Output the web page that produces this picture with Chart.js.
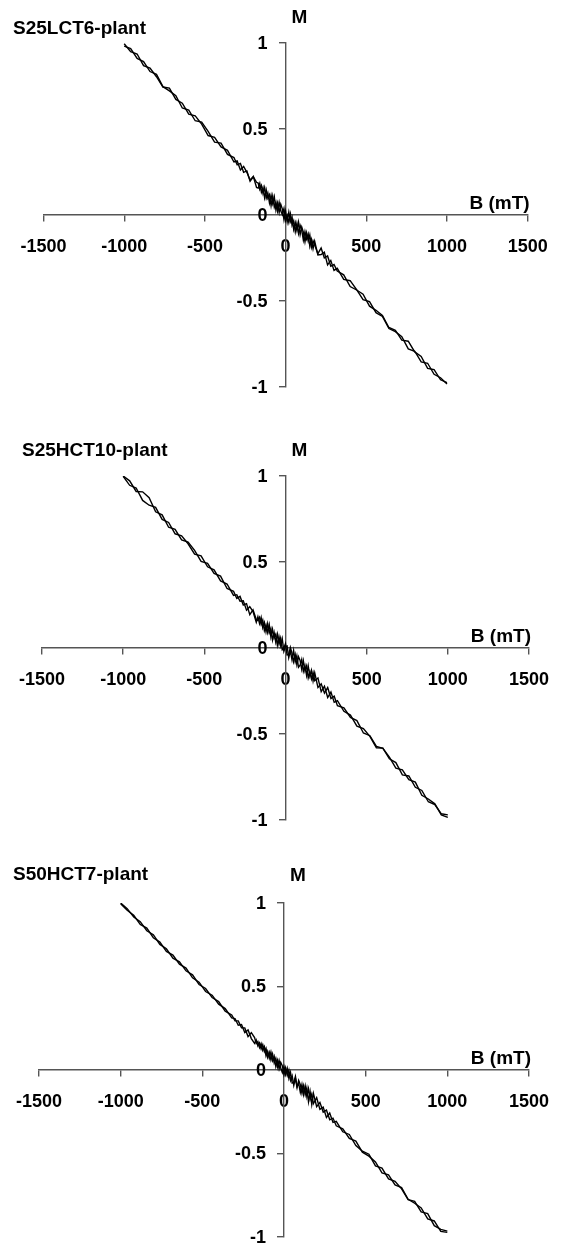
<!DOCTYPE html>
<html>
<head>
<meta charset="utf-8">
<script src="https://cdn.jsdelivr.net/npm/chart.js@4.4.1/dist/chart.umd.min.js"></script>
<style>
  html, body { margin: 0; padding: 0; background: #fff; }
  body { width: 564px; height: 1247px; position: relative; overflow: hidden; }
  canvas { position: absolute; left: 0; }
</style>
</head>
<body>
<canvas id="plantA" width="564" height="415" style="top:0"></canvas>
<canvas id="plantB" width="564" height="415" style="top:415px"></canvas>
<canvas id="plantC" width="564" height="417" style="top:830px"></canvas>
<script>
// applied field B (mT) at each measurement point, shared by all samples
// (finer steps close to zero field)
const fieldSteps = [
    1000, 960, 920, 880, 840, 800, 760, 720, 680, 640, 600, 560, 520, 480, 440, 400, 360, 320,
    300, 280, 260, 240, 220, 200, 180,
    170, 160, 150, 140, 130, 120, 110, 100, 90, 80, 70, 60, 50, 40, 30, 20, 10, 0,
    -10, -20, -30, -40, -50, -60, -70, -80, -90, -100, -110, -120, -130, -140, -150, -160, -170,
    -180, -200, -220, -240, -260, -280, -300,
    -320, -360, -400, -440, -480, -520, -560, -600, -640, -680, -720, -760, -800, -840, -880, -920, -960, -1000
];
const fieldTicks = [-1500, -1000, -500, 0, 500, 1000, 1500];
const momentTicks = [-1, -0.5, 0, 0.5, 1];

// normalised magnetisation M, descending and ascending sweeps
const s25lct6Down = [
    -0.975, -0.958, -0.899, -0.892, -0.822, -0.796, -0.734, -0.728, -0.670, -0.654, -0.584, -0.554, -0.530, -0.460, -0.436, -0.416, -0.348, -0.326,
    -0.288, -0.298, -0.238, -0.250, -0.192, -0.224, -0.174,
    -0.150, -0.188, -0.116, -0.152, -0.104, -0.156, -0.100, -0.070, -0.114, -0.042, -0.090, -0.044, -0.084, -0.012, -0.038, 0.016, -0.040, 0.022,
    -0.028, 0.034, 0.062, 0.014, 0.070, 0.028, 0.106, 0.066, 0.116, 0.070, 0.128, 0.098, 0.160, 0.124, 0.172, 0.148, 0.186,
    0.190, 0.222, 0.196, 0.256, 0.248, 0.300, 0.292,
    0.334, 0.352, 0.418, 0.424, 0.486, 0.540, 0.548, 0.610, 0.622, 0.694, 0.722, 0.746, 0.818, 0.834, 0.892, 0.910, 0.968, 0.982
];
const s25lct6Up = [
    -0.982, -0.946, -0.926, -0.862, -0.854, -0.792, -0.778, -0.708, -0.678, -0.660, -0.590, -0.568, -0.504, -0.492, -0.434, -0.382, -0.374, -0.310,
    -0.322, -0.264, -0.290, -0.216, -0.230, -0.232, -0.152,
    -0.196, -0.142, -0.182, -0.110, -0.140, -0.096, -0.146, -0.088, -0.060, -0.108, -0.048, -0.098, -0.034, -0.060, 0.006, -0.044, -0.002, -0.032,
    0.038, 0.002, 0.024, 0.074, 0.022, 0.076, 0.046, 0.110, 0.054, 0.118, 0.098, 0.146, 0.100, 0.160, 0.132, 0.184, 0.156,
    0.160, 0.224, 0.204, 0.248, 0.282, 0.262, 0.314,
    0.308, 0.376, 0.396, 0.452, 0.462, 0.528, 0.576, 0.586, 0.650, 0.672, 0.738, 0.744, 0.804, 0.854, 0.868, 0.936, 0.950, 0.996
];
const s25hct10Down = [
    -0.985, -0.970, -0.906, -0.878, -0.856, -0.780, -0.766, -0.708, -0.698, -0.634, -0.584, -0.572, -0.510, -0.494, -0.422, -0.404, -0.348, -0.336,
    -0.280, -0.294, -0.230, -0.262, -0.208, -0.230, -0.144,
    -0.192, -0.130, -0.164, -0.104, -0.160, -0.102, -0.136, -0.066, -0.100, -0.112, -0.044, -0.080, -0.014, -0.068, -0.016, -0.056, 0.012, 0.008,
    -0.020, 0.054, 0.014, 0.066, 0.016, 0.080, 0.058, 0.110, 0.064, 0.136, 0.090, 0.134, 0.102, 0.162, 0.136, 0.178, 0.160,
    0.166, 0.222, 0.194, 0.258, 0.250, 0.300, 0.288,
    0.330, 0.346, 0.418, 0.434, 0.492, 0.504, 0.568, 0.616, 0.628, 0.690, 0.702, 0.774, 0.792, 0.874, 0.908, 0.910, 0.972, 1.000
];
const s25hct10Up = [
    -0.970, -0.964, -0.910, -0.894, -0.828, -0.810, -0.744, -0.738, -0.666, -0.644, -0.582, -0.580, -0.514, -0.468, -0.454, -0.390, -0.368, -0.306,
    -0.316, -0.256, -0.288, -0.222, -0.254, -0.174, -0.190,
    -0.142, -0.180, -0.138, -0.174, -0.104, -0.134, -0.074, -0.124, -0.072, -0.050, -0.098, -0.038, -0.080, -0.030, 0.004, -0.038, -0.040, 0.026,
    0.000, -0.010, 0.058, 0.022, 0.080, 0.034, 0.090, 0.046, 0.114, 0.088, 0.142, 0.094, 0.148, 0.118, 0.178, 0.142, 0.182,
    0.150, 0.212, 0.240, 0.220, 0.274, 0.272, 0.310,
    0.306, 0.372, 0.390, 0.454, 0.472, 0.536, 0.546, 0.606, 0.652, 0.664, 0.730, 0.748, 0.818, 0.830, 0.858, 0.930, 0.946, 0.998
];
const s50hct7Down = [
    -0.972, -0.966, -0.904, -0.892, -0.826, -0.798, -0.774, -0.704, -0.688, -0.628, -0.616, -0.550, -0.516, -0.492, -0.426, -0.410, -0.352, -0.334,
    -0.288, -0.298, -0.240, -0.252, -0.194, -0.220, -0.140,
    -0.206, -0.130, -0.190, -0.106, -0.148, -0.094, -0.140, -0.088, -0.062, -0.106, -0.050, -0.092, -0.034, -0.062, 0.000, -0.032, 0.014, -0.028,
    0.024, 0.046, 0.006, 0.058, 0.020, 0.082, 0.056, 0.108, 0.070, 0.112, 0.084, 0.140, 0.118, 0.158, 0.134, 0.170, 0.158,
    0.194, 0.224, 0.200, 0.252, 0.252, 0.294, 0.294,
    0.330, 0.352, 0.410, 0.434, 0.488, 0.512, 0.570, 0.594, 0.648, 0.670, 0.726, 0.752, 0.810, 0.834, 0.888, 0.916, 0.966, 1.000
];
const s50hct7Up = [
    -0.965, -0.954, -0.932, -0.860, -0.850, -0.786, -0.776, -0.712, -0.666, -0.652, -0.588, -0.574, -0.504, -0.486, -0.452, -0.386, -0.370, -0.308,
    -0.314, -0.258, -0.284, -0.222, -0.236, -0.166, -0.202,
    -0.144, -0.176, -0.112, -0.160, -0.096, -0.148, -0.086, -0.134, -0.080, -0.100, -0.038, -0.074, -0.078, -0.014, -0.050, 0.010, -0.028, 0.022,
    -0.016, 0.012, 0.058, 0.018, 0.070, 0.042, 0.096, 0.060, 0.106, 0.076, 0.130, 0.110, 0.152, 0.126, 0.162, 0.144, 0.180,
    0.160, 0.188, 0.240, 0.224, 0.272, 0.268, 0.308,
    0.312, 0.368, 0.394, 0.448, 0.470, 0.526, 0.552, 0.610, 0.634, 0.688, 0.710, 0.766, 0.792, 0.850, 0.872, 0.926, 0.956, 0.996
];

const axisColor = '#555';
const fontFamily = '"Liberation Sans", Arial, sans-serif';
const tickFont = { family: fontFamily, size: 18, weight: 'bold' };

// title, M / B (mT) axis names and the M tick labels beside the crossed axes
const panelText = {
    id: 'panelText',
    afterDraw(chart, args, opts) {
        const { ctx, chartArea, scales } = chart;
        const x0 = scales.x.getPixelForValue(0);
        const y0 = scales.y.getPixelForValue(0);
        ctx.save();
        ctx.fillStyle = '#000';

        ctx.font = 'bold 18px ' + fontFamily;
        ctx.textAlign = 'right';
        ctx.textBaseline = 'middle';
        scales.y.ticks.forEach(t => {
            ctx.fillText(String(t.value), x0 - 18, scales.y.getPixelForValue(t.value) + 1);
        });

        ctx.font = 'bold 19px ' + fontFamily;
        ctx.textBaseline = 'alphabetic';
        ctx.textAlign = 'left';
        ctx.fillText(opts.title, opts.titleX, opts.titleY);
        ctx.fillText('M', x0 + 6, opts.mY);
        ctx.textAlign = 'right';
        ctx.fillText('B (mT)', chartArea.right + 2, y0 - 6);
        ctx.restore();
    }
};

function toPoints(values) {
    return fieldSteps.map((b, i) => ({ x: b, y: values[i] }));
}

function makePanel(id, text, down, up, pad) {
    const ctx = document.getElementById(id).getContext('2d');
    return new Chart(ctx, {
        type: 'scatter',
        data: {
            datasets: [down, up].map(values => ({
                data: toPoints(values),
                showLine: true,
                borderColor: '#000',
                borderWidth: 1.4,
                pointRadius: 0,
                tension: 0
            }))
        },
        options: {
            responsive: false,
            animation: false,
            devicePixelRatio: 1,
            layout: { padding: pad },
            plugins: {
                legend: { display: false },
                tooltip: { enabled: false },
                panelText: text
            },
            scales: {
                x: {
                    type: 'linear',
                    min: -1500,
                    max: 1500,
                    position: { y: 0 },
                    afterFit(s) { s.height = 0; },
                    afterBuildTicks(s) { s.ticks = fieldTicks.map(v => ({ value: v })); },
                    grid: { drawOnChartArea: false, drawTicks: true, tickLength: 6, color: axisColor, lineWidth: 1.4 },
                    border: { color: axisColor, width: 1.4 },
                    ticks: { color: '#000', font: tickFont, padding: 15, maxRotation: 0, autoSkip: false, callback: v => String(v) }
                },
                y: {
                    type: 'linear',
                    min: -1,
                    max: 1,
                    position: { x: 0 },
                    afterFit(s) { s.width = 0; },
                    afterBuildTicks(s) { s.ticks = momentTicks.map(v => ({ value: v })); },
                    grid: { drawOnChartArea: false, drawTicks: true, tickLength: 6, color: axisColor, lineWidth: 1.4 },
                    border: { color: axisColor, width: 1.4 },
                    ticks: { display: false }
                }
            }
        },
        plugins: [panelText]
    });
}

makePanel('plantA', { title: 'S25LCT6-plant', titleX: 13, titleY: 34, mY: 23 },
    s25lct6Down, s25lct6Up, { left: 43.5, right: 36.3, top: 43, bottom: 28 });
makePanel('plantB', { title: 'S25HCT10-plant', titleX: 22, titleY: 41, mY: 41 },
    s25hct10Down, s25hct10Up, { left: 42, right: 30, top: 61, bottom: 10 });
makePanel('plantC', { title: 'S50HCT7-plant', titleX: 13, titleY: 50, mY: 51 },
    s50hct7Down, s50hct7Up, { left: 39, right: 25, top: 73, bottom: 10 });
</script>
</body>
</html>
